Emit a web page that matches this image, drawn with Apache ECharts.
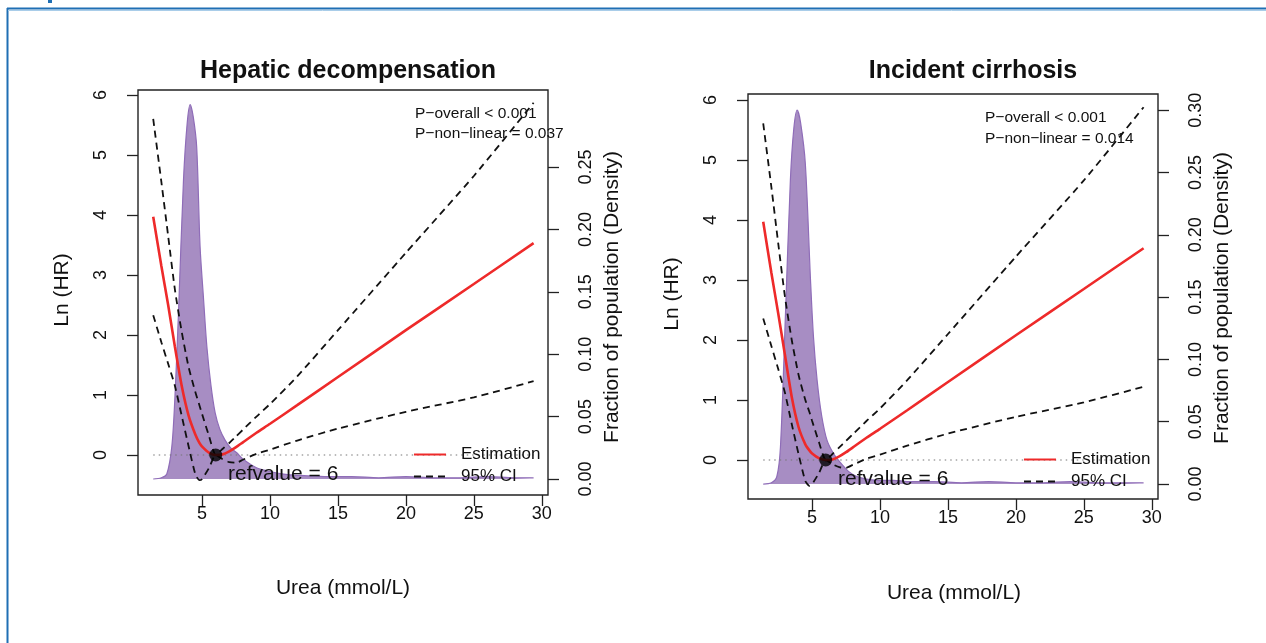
<!DOCTYPE html>
<html>
<head>
<meta charset="utf-8">
<script src="https://cdn.jsdelivr.net/npm/echarts@6/dist/echarts.min.js"></script>
<style>
html, body { margin: 0; padding: 0; background: #fff; }
#main { width: 1266px; height: 643px; }
</style>
</head>
<body>
<div id="main"></div>
<script>
// ticks
var xTicks = [5, 10, 15, 20, 25, 30];
var lnTicks = [0, 1, 2, 3, 4, 5, 6];
var densTicks1 = [0, 0.05, 0.10, 0.15, 0.20, 0.25];
var densTicks2 = [0, 0.05, 0.10, 0.15, 0.20, 0.25, 0.30];
var refX = 6;
var zeroLineX = [1.4, 29.4];

// Hepatic decompensation
var x1 = [1.4, 2, 2.5, 3, 3.5, 4, 4.5, 4.8, 5, 5.5, 6, 6.5, 7, 7.5, 8, 9, 10, 12, 15, 20, 25, 29.4];
var est1 = [3.97, 3.15, 2.50, 1.80, 1.15, 0.66, 0.34, 0.20, 0.14, 0.04, 0.00, 0.01, 0.06, 0.13, 0.21, 0.37, 0.52, 0.83, 1.30, 2.08, 2.85, 3.53];
var up1 = [5.60, 4.55, 3.65, 2.75, 2.05, 1.47, 1.05, 0.83, 0.68, 0.32, 0.00, 0.10, 0.20, 0.31, 0.42, 0.64, 0.85, 1.31, 2.08, 3.37, 4.65, 5.87];
var lo1 = [2.33, 1.88, 1.52, 1.15, 0.65, 0.15, -0.32, -0.42, -0.40, -0.22, 0.00, -0.07, -0.12, -0.13, -0.08, 0.02, 0.09, 0.24, 0.44, 0.72, 0.96, 1.23];
var dx1 = [1.4, 2.0, 2.4, 2.77, 3.0, 3.26, 3.63, 3.9, 4.12, 4.35, 4.6, 4.85, 5.1, 5.35, 5.65, 5.96, 6.3, 6.7, 7.1, 7.55, 8, 9, 10, 11, 12, 14, 16, 18, 20, 22, 24, 26, 28, 29.4];
var d1 = [0.000, 0.001, 0.004, 0.026, 0.066, 0.133, 0.240, 0.285, 0.300, 0.290, 0.266, 0.186, 0.145, 0.106, 0.075, 0.053, 0.040, 0.031, 0.025, 0.021, 0.016, 0.009, 0.006, 0.004, 0.003, 0.002, 0.002, 0.001, 0.002, 0.001, 0.001, 0.002, 0.001, 0.001];

// Incident cirrhosis
var x2 = [1.4, 2, 2.5, 3, 3.5, 4, 4.5, 4.8, 5, 5.5, 6, 6.5, 7, 7.5, 8, 9, 10, 12, 15, 20, 25, 29.4];
var est2 = [3.97, 3.12, 2.45, 1.75, 1.05, 0.55, 0.26, 0.16, 0.11, 0.03, 0.00, 0.01, 0.06, 0.13, 0.21, 0.37, 0.52, 0.83, 1.30, 2.08, 2.85, 3.53];
var up2 = [5.61, 4.55, 3.62, 2.72, 2.00, 1.42, 1.00, 0.80, 0.65, 0.30, 0.00, 0.10, 0.21, 0.32, 0.43, 0.65, 0.86, 1.33, 2.10, 3.39, 4.66, 5.88];
var lo2 = [2.36, 1.90, 1.52, 1.12, 0.60, 0.10, -0.35, -0.43, -0.40, -0.22, 0.00, -0.07, -0.12, -0.13, -0.08, 0.02, 0.09, 0.24, 0.44, 0.72, 0.96, 1.22];
var dx2 = [1.4, 2.0, 2.4, 2.67, 3.04, 3.4, 3.65, 3.9, 4.15, 4.5, 4.88, 5.1, 5.37, 5.7, 6.1, 6.6, 7.1, 7.7, 8.3, 9, 10, 11, 12, 14, 16, 18, 20, 22, 24, 26, 28, 29.4];
var d2 = [0.000, 0.001, 0.006, 0.030, 0.137, 0.244, 0.285, 0.300, 0.290, 0.257, 0.164, 0.118, 0.083, 0.055, 0.035, 0.024, 0.017, 0.010, 0.006, 0.004, 0.003, 0.003, 0.002, 0.002, 0.001, 0.002, 0.001, 0.001, 0.002, 0.001, 0.001, 0.001];

var FONT = '"Liberation Sans", Arial, sans-serif';
var INK = '#111';

function zip(xs, ys) {
	var out = [];
	for (var i = 0; i < xs.length; i++) out.push([xs[i], ys[i]]);
	return out;
}

function tickStyle(vals) {
	return { show: true, length: 11, customValues: vals, lineStyle: { color: '#222', width: 1.3 } };
}

function xAxisFor(gi) {
	return {
		type: 'value', gridIndex: gi, min: 0.28, max: 30.46,
		axisLine: { show: false, onZero: false },
		splitLine: { show: false },
		axisTick: tickStyle(xTicks),
		axisLabel: { customValues: xTicks, fontSize: 18, color: INK, margin: 10, fontFamily: FONT }
	};
}

function lnAxisFor(gi, min, max) {
	return {
		type: 'value', gridIndex: gi, position: 'left', min: min, max: max,
		axisLine: { show: false, onZero: false },
		splitLine: { show: false },
		axisTick: tickStyle(lnTicks),
		axisLabel: { customValues: lnTicks, rotate: 90, fontSize: 18, color: INK, margin: 28, fontFamily: FONT }
	};
}

function densAxisFor(gi, min, max, ticks) {
	return {
		type: 'value', gridIndex: gi, position: 'right', min: min, max: max,
		axisLine: { show: false, onZero: false },
		splitLine: { show: false },
		axisTick: tickStyle(ticks),
		axisLabel: {
			customValues: ticks, rotate: 90, fontSize: 18, color: INK, margin: 29, fontFamily: FONT,
			formatter: function(v) { return v.toFixed(2); }
		}
	};
}

function panelSeries(xi, yl, yr, xs, est, up, lo, dx, d) {
	var dash = { color: '#111', width: 1.8, type: [7, 5] };
	return [{
		name: 'density', type: 'line', xAxisIndex: xi, yAxisIndex: yr,
		data: zip(dx, d), symbol: 'none', smooth: 0.3,
		lineStyle: { color: '#8f6db8', width: 1.2 },
		areaStyle: { color: '#a78dc3', opacity: 1 }
	}, {
		name: 'zero', type: 'line', xAxisIndex: xi, yAxisIndex: yl,
		data: zip(zeroLineX, [0, 0]), symbol: 'none',
		lineStyle: { color: '#777', width: 1.2, type: [1.5, 4] }
	}, {
		name: '95% CI', type: 'line', xAxisIndex: xi, yAxisIndex: yl,
		data: zip(xs, up), symbol: 'none', smooth: 0.2, lineStyle: dash
	}, {
		name: '95% CI', type: 'line', xAxisIndex: xi, yAxisIndex: yl,
		data: zip(xs, lo), symbol: 'none', smooth: 0.2, lineStyle: dash
	}, {
		name: 'Estimation', type: 'line', xAxisIndex: xi, yAxisIndex: yl,
		data: zip(xs, est), symbol: 'none', smooth: 0.2,
		lineStyle: { color: '#ee2a2a', width: 2.6 }, itemStyle: { color: '#ee2a2a' }
	}, {
		name: 'ref', type: 'scatter', xAxisIndex: xi, yAxisIndex: yl,
		data: [[refX, 0]], symbolSize: 13, itemStyle: { color: '#000' }, z: 5
	}];
}

function txt(x, y, s, size, opts) {
	var style = { text: s, fill: INK, font: (opts && opts.bold ? 'bold ' : '') + size + 'px ' + FONT,
		textAlign: (opts && opts.align) || 'center', textVerticalAlign: 'middle' };
	return { type: 'text', x: x, y: y, rotation: (opts && opts.rot) || 0, style: style, z: 10 };
}

function legendFor(left, top) {
	return {
		left: left, top: top, orient: 'vertical', data: ['Estimation', '95% CI'],
		padding: 0, itemWidth: 32, itemHeight: 14, itemGap: 5,
		itemStyle: { opacity: 0 },
		textStyle: { fontSize: 17, color: INK, fontFamily: FONT, padding: [0, 0, 0, 10] }
	};
}

var chart = echarts.init(document.getElementById('main'));

var series = [].concat(
	panelSeries(0, 0, 1, x1, est1, up1, lo1, dx1, d1),
	panelSeries(1, 2, 3, x2, est2, up2, lo2, dx2, d2)
);

chart.setOption({
	backgroundColor: '#fff',
	animation: false,
	grid: [
		{ left: 138, top: 90, width: 410, height: 405, show: true, borderColor: '#222', borderWidth: 1.4, backgroundColor: 'transparent' },
		{ left: 748, top: 94, width: 410, height: 405, show: true, borderColor: '#222', borderWidth: 1.4, backgroundColor: 'transparent' }
	],
	xAxis: [xAxisFor(0), xAxisFor(1)],
	yAxis: [
		lnAxisFor(0, -0.667, 6.083),
		densAxisFor(0, -0.0128, 0.3117, densTicks1),
		lnAxisFor(1, -0.65, 6.1),
		densAxisFor(1, -0.012, 0.313, densTicks2)
	],
	legend: [legendFor(413, 446), legendFor(1023, 451)],
	graphic: [
		// figure frame
		{ type: 'line', shape: { x1: 7, y1: 8.5, x2: 1266, y2: 8.5 }, style: { stroke: '#1f6fb4', lineWidth: 2 } },
		{ type: 'line', shape: { x1: 7.5, y1: 8, x2: 7.5, y2: 643 }, style: { stroke: '#1f6fb4', lineWidth: 2 } },
		{ type: 'line', shape: { x1: 8, y1: 10.5, x2: 1266, y2: 10.5 }, style: { stroke: '#a9cde9', lineWidth: 1 } },
		{ type: 'rect', shape: { x: 48, y: 0, width: 4, height: 3 }, style: { fill: '#1f6fb4' } },
		// titles
		txt(348, 71, 'Hepatic decompensation', 25, { bold: true }),
		txt(973, 71, 'Incident cirrhosis', 25, { bold: true }),
		// axis names
		txt(62, 290, 'Ln (HR)', 21, { rot: Math.PI / 2 }),
		txt(672, 294, 'Ln (HR)', 21, { rot: Math.PI / 2 }),
		txt(343, 588, 'Urea (mmol/L)', 21),
		txt(954, 593, 'Urea (mmol/L)', 21),
		txt(612, 297, 'Fraction of population (Density)', 21, { rot: Math.PI / 2 }),
		txt(1222, 298, 'Fraction of population (Density)', 21, { rot: Math.PI / 2 }),
		// p values
		txt(415, 114, 'P\u2212overall < 0.001', 15.5, { align: 'left' }),
		txt(415, 134, 'P\u2212non\u2212linear = 0.037', 15.5, { align: 'left' }),
		txt(985, 118, 'P\u2212overall < 0.001', 15.5, { align: 'left' }),
		txt(985, 139, 'P\u2212non\u2212linear = 0.014', 15.5, { align: 'left' }),
		// reference label
		txt(228, 474, 'refvalue = 6', 21, { align: 'left' }),
		txt(838, 479, 'refvalue = 6', 21, { align: 'left' })
	],
	series: series
});
</script>
</body>
</html>
